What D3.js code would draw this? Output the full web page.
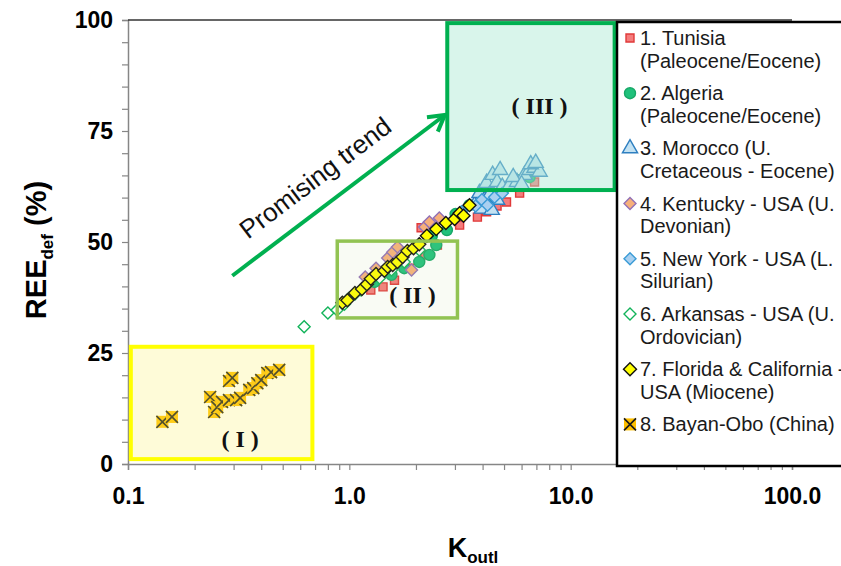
<!DOCTYPE html>
<html>
<head>
<meta charset="utf-8">
<script src="https://cdn.jsdelivr.net/npm/d3@7"></script>
<style>
body { margin: 0; background: #fff; }
svg { display: block; }
</style>
</head>
<body>
<div id="chart"></div>
<script>
// [K_outl, REE_def %]
var tunisia = [[1.25,39.2],[1.42,39.9],[1.60,41.4],[1.87,44.1],[2.19,47.1],[2.50,49.3],[2.11,53.2],[3.15,53.8],[3.79,55.6],[4.17,56.8],[4.65,58.1],[5.13,59.0],[5.88,61.0],[6.87,63.5]];
var algeria = [[1.30,41.0],[1.55,42.6],[1.77,44.1],[2.07,45.5],[2.30,47.1],[2.47,49.3],[2.36,51.4],[2.76,52.7],[3.02,56.3],[3.49,58.3],[4.30,60.6],[5.03,62.2],[5.72,64.0],[6.52,64.6]];
var morocco = [[3.68,58.3],[3.87,61.0],[4.08,59.5],[4.17,63.3],[4.30,60.6],[4.44,65.1],[4.65,63.5],[4.65,59.5],[4.91,62.4],[5.30,62.8],[5.72,63.5],[6.19,65.1],[6.52,66.2],[6.87,66.7],[7.24,65.8],[3.97,57.5],[4.40,57.2],[4.80,66.2],[5.50,64.6],[6.00,63.0],[6.60,67.5],[6.95,67.8]];
var kentucky = [[1.18,42.1],[1.32,44.1],[1.49,46.4],[1.57,47.7],[1.65,48.9],[1.91,43.7],[2.19,53.4],[2.30,54.5],[2.55,55.4]];
var newYork = [[3.21,56.8],[3.49,58.3],[3.72,58.1],[3.97,59.5],[4.21,58.3],[4.53,60.1],[4.91,61.0]];
var arkansas = [[0.625,30.9],[0.80,34.0],[0.88,34.7],[0.95,36.0],[1.00,37.4],[1.06,38.3],[1.13,39.2],[1.23,40.8],[1.37,41.9],[1.55,43.7],[1.77,45.5],[2.07,48.2]];
var florida = [[0.93,36.3],[0.98,36.9],[1.06,38.5],[1.14,39.4],[1.20,40.5],[1.25,41.7],[1.32,42.8],[1.44,43.5],[1.49,44.4],[1.57,44.8],[1.65,45.5],[1.74,46.6],[1.83,48.0],[1.95,48.6],[2.07,49.5],[2.24,51.4],[2.47,52.9],[2.73,54.3],[2.99,55.2],[3.15,56.5],[3.28,55.9],[3.49,58.3]];
var bayanObo = [[0.143,9.5],[0.158,10.6],[0.235,15.1],[0.245,11.7],[0.253,12.8],[0.266,14.0],[0.286,18.7],[0.296,19.4],[0.286,14.4],[0.308,14.4],[0.321,14.9],[0.353,16.7],[0.368,17.1],[0.384,18.2],[0.400,18.9],[0.426,20.5],[0.443,20.7],[0.482,21.2]];

var legendLabels = [
    ["1. Tunisia", "(Paleocene/Eocene)"],
    ["2. Algeria", "(Paleocene/Eocene)"],
    ["3. Morocco (U.", "Cretaceous - Eocene)"],
    ["4. Kentucky - USA (U.", "Devonian)"],
    ["5. New York - USA (L.", "Silurian)"],
    ["6. Arkansas - USA (U.", "Ordovician)"],
    ["7. Florida & California -", "USA (Miocene)"],
    ["8. Bayan-Obo (China)"]
];

var xTickLabels = {0.1: "0.1", 1: "1.0", 10: "10.0", 100: "100.0"};
var yMajorTicks = [0, 25, 50, 75, 100];

// boxes: [xmin, xmax, ymin, ymax]
var boxI = [0.103, 0.681, 1.1, 26.4];
var boxII = [0.882, 3.08, 32.9, 50.2];
var boxIII = [2.77, 15.8, 61.7, 99.3];
var regionLabels = [["( I )", 0.321, 5.0], ["( II )", 1.93, 37.6], ["( III )", 7.24, 80.0]];
var trendArrow = [[0.296, 42.4], [2.70, 78.6]];

var width = 841, height = 566;

var svg = d3.select("#chart")
            .append("svg")
            .attr("width", width)
            .attr("height", height);

var x = d3.scaleLog().domain([0.1, 100]).range([128, 792]);
var y = d3.scaleLinear().domain([0, 100]).range([464, 20]);

var diamond = {
    draw: function(ctx, size) {
        var r = Math.sqrt(size / 2);
        ctx.moveTo(0, -r); ctx.lineTo(r, 0); ctx.lineTo(0, r); ctx.lineTo(-r, 0); ctx.closePath();
    }
};

var series = [
    {data: tunisia,  sym: d3.symbolSquare,   size: 64, fill: "#f47c7c", stroke: "#e03a3a"},
    {data: algeria,  sym: d3.symbolCircle,   size: 95, fill: "#1fc17b", stroke: "#17a867"},
    {data: morocco,  sym: d3.symbolTriangle, size: 100, fill: "#c3e2f3", stroke: "#2e7fc0"},
    {data: kentucky, sym: diamond, size: 72, fill: "#f7b07a", stroke: "#9270b5"},
    {data: newYork,  sym: diamond, size: 72, fill: "#a9d0f0", stroke: "#3a9bd6"},
    {data: arkansas, sym: diamond, size: 72, fill: "#ffffff", stroke: "#12b35a"},
    {data: florida,  sym: diamond, size: 84, fill: "#ffff00", stroke: "#111111"},
    {data: bayanObo, sym: "x"}
];

function drawMarker(g, s) {
    if (s.sym === "x") {
        g.append("rect").attr("x", -6).attr("y", -6).attr("width", 12).attr("height", 12)
            .attr("fill", "#ffc000");
        g.append("path").attr("d", "M-6,-6L6,6M-6,6L6,-6")
            .attr("stroke", "#1a1a1a").attr("stroke-width", 1.6);
    } else {
        g.append("path")
            .attr("d", d3.symbol().type(s.sym).size(s.size)())
            .attr("fill", s.fill)
            .attr("stroke", s.stroke)
            .attr("stroke-width", 1.4);
    }
}

// axes
var yAxis = d3.axisLeft(y)
    .tickValues(d3.range(0, 101, 5))
    .tickSize(6)
    .tickPadding(9)
    .tickFormat(function(d) { return yMajorTicks.indexOf(d) >= 0 ? d : ""; });

var xTicks = [];
[0.1, 1, 10].forEach(function(dec) {
    for (var k = 1; k < 10; k++) xTicks.push(+(dec * k).toPrecision(3));
});
xTicks.push(100);

var xAxis = d3.axisBottom(x)
    .tickValues(xTicks)
    .tickSize(6)
    .tickPadding(18)
    .tickFormat(function(d) { return xTickLabels[d] || ""; });

var gy = svg.append("g").attr("transform", "translate(128,0)").call(yAxis);
var gx = svg.append("g").attr("transform", "translate(0,464)").call(xAxis);

[gx, gy].forEach(function(g) {
    g.select(".domain").attr("stroke", "#868686").attr("stroke-width", 1.5);
    g.selectAll(".tick line").attr("stroke", "#868686").attr("stroke-width", 1.2);
    g.selectAll(".tick text")
        .attr("fill", "#000")
        .style("font-family", "'Liberation Sans', Arial, sans-serif")
        .style("font-weight", "bold")
        .style("font-size", "23px");
});

// plot area top border
svg.append("line")
    .attr("x1", x(0.1)).attr("x2", x(100))
    .attr("y1", y(100)).attr("y2", y(100))
    .attr("stroke", "#333").attr("stroke-width", 1.4);

// points
series.forEach(function(s) {
    svg.append("g").selectAll("g")
        .data(s.data)
        .enter()
        .append("g")
        .attr("transform", function(d) { return "translate(" + x(d[0]) + "," + y(d[1]) + ")"; })
        .each(function() { drawMarker(d3.select(this), s); });
});

// region boxes
function drawBox(b, fill, stroke, sw) {
    svg.append("rect")
        .attr("x", x(b[0])).attr("y", y(b[3]))
        .attr("width", x(b[1]) - x(b[0]))
        .attr("height", y(b[2]) - y(b[3]))
        .attr("fill", fill)
        .attr("stroke", stroke)
        .attr("stroke-width", sw);
}
drawBox(boxI, "rgba(250,240,100,0.25)", "#ffff00", 4);
drawBox(boxII, "rgba(200,220,150,0.1)", "#92c353", 3.5);
drawBox(boxIII, "rgba(170,232,210,0.45)", "#00b050", 4);

svg.selectAll(".region")
    .data(regionLabels)
    .enter()
    .append("text")
    .attr("x", function(d) { return x(d[1]); })
    .attr("y", function(d) { return y(d[2]); })
    .attr("text-anchor", "middle")
    .attr("dominant-baseline", "middle")
    .style("font-family", "'Liberation Serif', 'Times New Roman', serif")
    .style("font-weight", "bold")
    .style("font-size", "24px")
    .attr("fill", "#111")
    .text(function(d) { return d[0]; });

// trend arrow
var p0 = [x(trendArrow[0][0]), y(trendArrow[0][1])];
var p1 = [x(trendArrow[1][0]), y(trendArrow[1][1])];
var dx = p1[0] - p0[0], dy = p1[1] - p0[1];
var len = Math.sqrt(dx * dx + dy * dy);
var ux = dx / len, uy = dy / len;
var ang = Math.atan2(dy, dx);
var headLen = 18, headAng = Math.PI / 6;
svg.append("line")
    .attr("x1", p0[0]).attr("y1", p0[1])
    .attr("x2", p1[0] - ux * 2).attr("y2", p1[1] - uy * 2)
    .attr("stroke", "#00b050").attr("stroke-width", 4);
svg.append("path")
    .attr("d", "M" + (p1[0] - headLen * Math.cos(ang - headAng)) + "," + (p1[1] - headLen * Math.sin(ang - headAng)) +
               "L" + p1[0] + "," + p1[1] +
               "L" + (p1[0] - headLen * Math.cos(ang + headAng)) + "," + (p1[1] - headLen * Math.sin(ang + headAng)))
    .attr("fill", "none")
    .attr("stroke", "#00b050").attr("stroke-width", 4)
    .attr("stroke-linejoin", "miter");

var mid = [(p0[0] + p1[0]) / 2, (p0[1] + p1[1]) / 2];
var px = uy, py = -ux; // perpendicular, up-left
var tc = [mid[0] - 8 * ux + 26 * px, mid[1] - 8 * uy + 26 * py];
svg.append("text")
    .attr("transform", "translate(" + tc[0] + "," + tc[1] + ") rotate(" + (ang * 180 / Math.PI) + ")")
    .attr("text-anchor", "middle")
    .attr("dominant-baseline", "middle")
    .style("font-family", "'Liberation Sans', Arial, sans-serif")
    .style("font-size", "26px")
    .attr("fill", "#111")
    .text("Promising trend");

// legend
var legend = svg.append("g");
legend.append("rect")
    .attr("x", 617).attr("y", 22)
    .attr("width", 260).attr("height", 444)
    .attr("fill", "#fff")
    .attr("stroke", "#000")
    .attr("stroke-width", 2.5);

legendLabels.forEach(function(lines, i) {
    var base = 45 + i * 55.2;
    var m = legend.append("g").attr("transform", "translate(630," + (base - 7) + ")");
    drawMarker(m, series[i]);
    var t = legend.append("text")
        .attr("x", 640).attr("y", base)
        .style("font-family", "'Liberation Sans', Arial, sans-serif")
        .style("font-size", "20px")
        .attr("fill", "#1a1a1a");
    lines.forEach(function(l, j) {
        t.append("tspan").attr("x", 640).attr("dy", j === 0 ? 0 : 22.5).text(l);
    });
});

// axis titles
var yt = svg.append("text")
    .attr("transform", "translate(46,250) rotate(-90)")
    .attr("text-anchor", "middle")
    .style("font-family", "'Liberation Sans', Arial, sans-serif")
    .style("font-weight", "bold")
    .style("font-size", "29px")
    .attr("fill", "#000");
yt.append("tspan").text("REE");
yt.append("tspan").attr("dy", 7).style("font-size", "17px").text("def");
yt.append("tspan").attr("dy", -7).text(" (%)");

var xt = svg.append("text")
    .attr("x", 473).attr("y", 557)
    .attr("text-anchor", "middle")
    .style("font-family", "'Liberation Sans', Arial, sans-serif")
    .style("font-weight", "bold")
    .style("font-size", "27px")
    .attr("fill", "#000");
xt.append("tspan").text("K");
xt.append("tspan").attr("dy", 6).style("font-size", "17px").text("outl");
</script>
</body>
</html>
